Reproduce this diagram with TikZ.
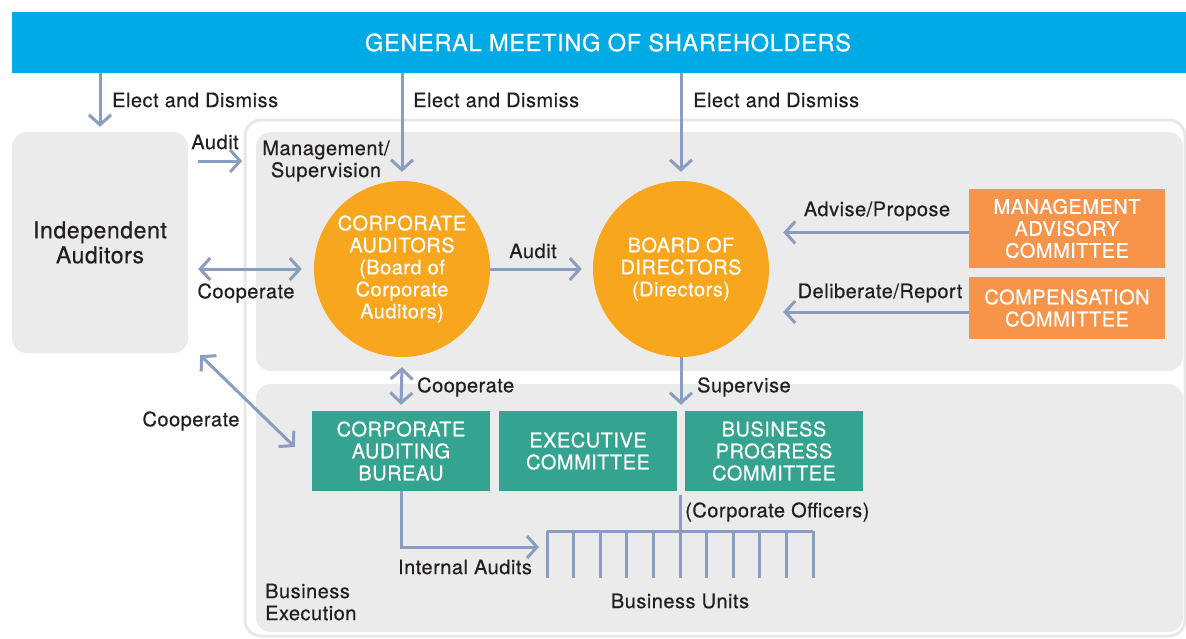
\documentclass[tikz,border=0pt]{standalone}
\usepackage{fontspec}
\setmainfont{TeX Gyre Heros}[FakeBold=0.5, LetterSpace=2.5]
\usetikzlibrary{arrows.meta}
\usetikzlibrary{calc}

\definecolor{sky}{RGB}{0,170,228}
\definecolor{steel}{RGB}{138,157,192}
\definecolor{pale}{RGB}{235,235,235}
\definecolor{rim}{RGB}{232,232,232}
\definecolor{amber}{RGB}{247,166,30}
\definecolor{tangerine}{RGB}{247,148,73}
\definecolor{jade}{RGB}{52,163,144}
\definecolor{ink}{RGB}{35,31,32}

\begin{document}
\begin{tikzpicture}[x=1pt, y=-1pt,
  >={Straight Barb[length=10pt,width=22pt]},
  link/.style={draw=steel, line width=3pt},
  arr/.style={link, ->},
  arrs/.style={link, <->},
  txt/.style={text=ink, inner sep=0pt, align=center, font=\fontsize{20}{22}\selectfont},
  banner/.style={fill=sky, text=white, inner sep=0pt, minimum width=1192pt, minimum height=61pt, font=\fontsize{23.7}{28}\selectfont},
  iabox/.style={fill=pale, rounded corners=15pt, text=ink, align=center, minimum width=176pt, minimum height=221pt, font=\fontsize{23}{25}\selectfont},
  boardcirc/.style={circle, fill=amber, text=white, inner sep=0pt, minimum size=176pt, align=center, font=\fontsize{20}{22}\selectfont},
  combox/.style={fill=tangerine, text=white, inner sep=0pt, minimum width=196pt, align=center, font=\fontsize{20}{22}\selectfont},
  unitbox/.style={fill=jade, text=white, inner sep=0pt, minimum width=178pt, minimum height=80pt, align=center, font=\fontsize{20}{22}\selectfont}]
\useasboundingbox (0,0) rectangle (1186,638);

% Frames
\draw [rim, line width=3pt, rounded corners=16pt] (245,120) rectangle (1185,636);
\fill [pale, rounded corners=15pt] (256,132) rectangle (1183,371);
\fill [pale, rounded corners=15pt] (256,384) rectangle (1183,632);

% Shareholders and auditors
\node [banner] (gms) at (608,42.5) {GENERAL MEETING OF SHAREHOLDERS};
\node [iabox] (ia) at (100,242.5) {Independent\\Auditors};

% Boards
\node [boardcirc] (ca) at (402,269) {CORPORATE\\AUDITORS\\(Board of\\Corporate\\Auditors)};
\node [boardcirc] (bod) at (681,269) {BOARD OF\\DIRECTORS\\(Directors)};

% Committees
\node [combox, minimum height=79pt] (mac) at (1067,228.5) {MANAGEMENT\\ADVISORY\\COMMITTEE};
\node [combox, minimum height=62pt] (cc) at (1067,308) {COMPENSATION\\COMMITTEE};

% Execution
\node [unitbox] (cab) at (401,451) {CORPORATE\\AUDITING\\BUREAU};
\node [unitbox] (ec) at (588,451) {EXECUTIVE\\COMMITTEE};
\node [unitbox] (bpc) at (774,451) {BUSINESS\\PROGRESS\\COMMITTEE};

% Labels
\node [txt, anchor=west] (ed1) at (112,100) {Elect and Dismiss};
\node [txt, anchor=west] (ed2) at (413,100) {Elect and Dismiss};
\node [txt, anchor=west] (ed3) at (693,100) {Elect and Dismiss};
\node [txt] (au1) at (215,142) {Audit};
\node [txt] (ms) at (326,161) {Management/\\Supervision};
\node [txt] (co1) at (246,293) {Cooperate};
\node [txt] (co2) at (191,421) {Cooperate};
\node [txt] (au2) at (533,251) {Audit};
\node [txt] (ap) at (877,211) {Advise/Propose};
\node [txt] (dr) at (880,293) {Deliberate/Report};
\node [txt, anchor=west] (co3) at (417,387) {Cooperate};
\node [txt, anchor=west] (sv) at (697,387) {Supervise};
\node [txt, anchor=west] (cof) at (685,512) {(Corporate Officers)};
\node [txt] (ia2) at (465,567) {Internal Audits};
\node [txt] (bun) at (680,601) {Business Units};
\node [txt, anchor=west, align=left] (bex) at (265,602) {Business\\Execution};

% Elect and Dismiss
\draw [arr] (gms.south -| ia) -- ($(ia.north)+(0,-5)$);
\draw [arr] (gms.south -| ca) -- ($(ca.north)+(0,-9)$);
\draw [arr] (gms.south -| bod) -- ($(bod.north)+(0,-9)$);

% Audit and cooperation
\draw [arr] ($(ia.east |- ms)+(10,0)$) -- ($(ms.west)+(-20,0)$);
\draw [arrs] ($(ia.east |- ca)+(10,0)$) -- ($(ca.west)+(-12,0)$);
\draw [arrs] ($(ia.south east)+(12,2)$) -- ($(cab.west)+(-17,-4)$);
\draw [arr] (ca.east) -- ($(bod.west)+(-11,0)$);
\draw [arrs] ($(ca.south)+(0,10)$) -- ($(cab.north)+(0,-6)$);

% Committees to board
\draw [arr] ($(mac.west)+(0,4)$) -- ($(mac.west -| bod.east)+(14,4)$);
\draw [arr] ($(cc.west)+(0,4)$) -- ($(cc.west -| bod.east)+(14,4)$);

% Supervise
\draw [arr] (bod.south) -- ($(bod.south |- cab.north)+(0,-6)$);

% Business units
\coordinate (bunit) at (539,547);
\coordinate (offtop) at (680,495);
\coordinate (butop) at (680,531);
\draw [arr] (cab.south) |- (bunit);
\draw [link] (offtop) -- (butop);
\draw [link] (547,531) -- (813,531);
\foreach \i in {0,...,10}
  \draw [link] (547+26.6*\i,531) -- ++(0,47);

\end{tikzpicture}
\end{document}
